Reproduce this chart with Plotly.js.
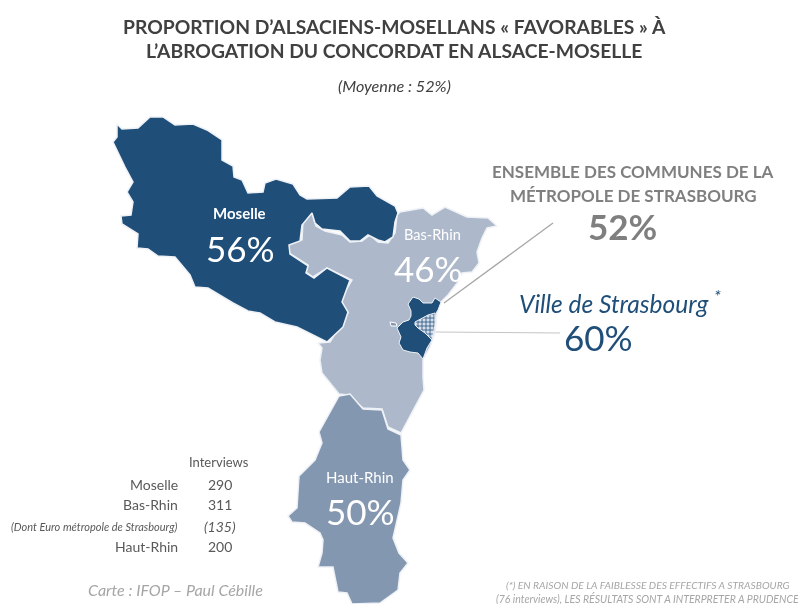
<!DOCTYPE html>
<html><head><meta charset="utf-8">
<script src="https://cdn.plot.ly/plotly-3.0.1.min.js"></script>
<style>html,body{margin:0;padding:0;background:#fff}#chart{width:798px;height:604px;filter:blur(0.35px)}</style>
</head><body><div id="chart"></div>
<script>
const FONT = 'Lato, "Open Sans", sans-serif';
const NAVY = '#1f4e79', LIGHT = '#adb9ca', MID = '#8497b0', GREY = '#7f7f7f', DARK = '#404040';

// Outlines, in picture units
const moselleX = [117,122,138,150,163,175,193,207,222,222,233,234,242,248,263,265,276,293,300,307,337,350,369,377,395,398,395,393,385,378,368,360,350,340,322,315,312,302,300,289,290,308,306,314,327,350,342,348,343,327,313,297,275,260,248,233,208,195,190,175,158,148,137,138,122,121,131,133,127,133,125,113,117];
const moselleY = [124,129,128,117,117,125,124,130,140,160,166,177,180,193,192,183,179,184,195,199,198,187,186,196,206,213,222,237,242,240,235,241,241,231,229,223,213,225,241,245,254,266,273,278,268,280,302,312,327,342,335,327,322,313,311,303,288,287,275,257,256,249,248,234,224,216,215,202,192,182,167,142,137];
const basRhinX = [312,316,325,342,350,362,370,378,388,395,397,400,423,432,445,467,488,497,487,482,477,479,472,462,458,448,440,437,435,430,423,423,424,412,401,388,382,363,348,339,322,320,322,318,330,348,340,352,327,313,306,308,289,289,302,303];
const basRhinY = [213,226,231,235,242,241,235,242,243,233,215,212,208,215,207,217,218,226,228,238,252,263,272,273,282,295,303,313,333,347,360,377,390,413,433,427,409,408,395,394,373,360,348,343,342,313,300,280,268,277,272,265,253,243,240,220];
const hautRhinX = [339,350,363,382,388,401,403,410,403,401,393,399,408,400,398,380,352,347,338,333,318,322,323,320,305,292,288,297,299,315,322,319];
const hautRhinY = [396,394,409,410,429,435,460,470,480,503,538,553,563,573,590,603,604,593,592,567,567,553,540,533,523,522,516,508,476,460,443,432];
const metroX = [413,419,423,432,435,441,438,436,435,432,427,423,418,410,403,399,401,397,403,409,411,411,408];
const metroY = [297,299,303,303,298,302,310,313,325,340,348,359,353,352,350,343,337,328,322,320,316,311,304];
const villeX = [415,422,428,435,435,432,425,418,415];
const villeY = [322,318,315,313,325,340,333,328,325];
const isletX = [390,396,397,391];
const isletY = [322,323,326,326];
const leader1X = [553,444], leader1Y = [223,303];
const leader2X = [436,560], leader2Y = [332,333];

// Texts
const titleLines = ["PROPORTION D’ALSACIENS-MOSELLANS « FAVORABLES » À", "L’ABROGATION DU CONCORDAT EN ALSACE-MOSELLE"];
const subtitle = "(Moyenne : 52%)";
const regions = ["Moselle", "Bas-Rhin", "Haut-Rhin"];
const regionPct = ["56%", "46%", "50%"];
const metroLines = ["ENSEMBLE DES COMMUNES DE LA", "MÉTROPOLE DE STRASBOURG"];
const metroPct = "52%";
const villeLabel = "Ville de Strasbourg <sup>*</sup>";
const villePct = "60%";
const tableHead = "Interviews";
const tableRows = ["Moselle", "Bas-Rhin", "(Dont Euro métropole de Strasbourg)", "Haut-Rhin"];
const tableVals = ["290", "311", "(135)", "200"];
const credit = "Carte : IFOP – Paul Cébille";
const footnote = ["(*) EN RAISON DE LA FAIBLESSE DES EFFECTIFS A STRASBOURG", "(76 interviews), LES RÉSULTATS SONT A INTERPRETER A PRUDENCE"];

function area(x, y, fill, extra) {
  return Object.assign({type:'scatter', mode:'lines', x, y, fill:'toself', fillcolor:fill,
    line:{color:'#eef1f6', width:1.5}, hoverinfo:'skip', showlegend:false}, extra || {});
}
const closed = a => a.concat(a[0]);
const traces = [
  area(closed(basRhinX), closed(basRhinY), LIGHT),
  area(closed(hautRhinX), closed(hautRhinY), MID),
  area(closed(moselleX), closed(moselleY), NAVY),
  area(closed(metroX), closed(metroY), NAVY, {line:{color:'#eef1f6', width:1}}),
  area(closed(villeX), closed(villeY), '#c9d5e5', {line:{color:'#eef1f6', width:1}, fillpattern:{shape:'+', fgcolor:NAVY, bgcolor:'#d5deea', size:4, solidity:0.35}}),
  area(closed(isletX), closed(isletY), MID, {line:{color:'#ffffff', width:1}}),
  {type:'scatter', mode:'lines', x:leader1X, y:leader1Y, line:{color:'#a6a6a6', width:1.3}, hoverinfo:'skip', showlegend:false},
  {type:'scatter', mode:'lines', x:leader2X, y:leader2Y, line:{color:'#c4c4c4', width:1}, hoverinfo:'skip', showlegend:false}
];

function t(text, x, y, size, color, o) {
  return Object.assign({text, x, y, xref:'x', yref:'y', showarrow:false, xanchor:'center', yanchor:'middle',
    font:{family:FONT, size, color}}, o || {});
}
const it = (text, x, y, size, color, o) => t('<i>'+text+'</i>', x, y, size, color, o);
const b = s => '<b>'+s+'</b>';
const regionPos = [[239,213,240,248],[432,234,428,268],[360,477,360,511]];
const annotations = [
  t(b(titleLines[0]),394,26,19.3,DARK),
  t(b(titleLines[1]),394,50,19.3,DARK),
  it(subtitle,394,85,16.2,DARK),
  t(b(regions[0]),regionPos[0][0],regionPos[0][1],15,'#ffffff'),
  t(regions[1],regionPos[1][0],regionPos[1][1],14.5,'#ffffff'),
  t(regions[2],regionPos[2][0],regionPos[2][1],15,'#ffffff'),
  t(regionPct[0],regionPos[0][2],regionPos[0][3],35,'#ffffff'),
  t(regionPct[1],regionPos[1][2],regionPos[1][3],35,'#ffffff'),
  t(regionPct[2],regionPos[2][2],regionPos[2][3],35,'#ffffff'),
  t(b(metroLines[0]),633,171,17,GREY),
  t(b(metroLines[1]),633,195,17,GREY),
  t(b(metroPct),622,226,35,GREY),
  it(villeLabel,620,302,24.5,NAVY),
  t(villePct,598,337,35,NAVY),
  t(tableHead,219,462,13,'#595959'),
  t(tableRows[0],180,484,14,'#595959',{xanchor:'right'}),
  t(tableRows[1],180,504,14,'#595959',{xanchor:'right'}),
  it(tableRows[2],180,526,11,'#595959',{xanchor:'right'}),
  t(tableRows[3],180,546,14,'#595959',{xanchor:'right'}),
  t(tableVals[0],220,484,14,'#595959'),
  t(tableVals[1],220,504,14,'#595959'),
  it(tableVals[2],220,526,14,'#595959'),
  t(tableVals[3],220,546,14,'#595959'),
  it(credit,175,589,16,'#a6a6a6'),
  it(footnote[0],648,585,10.3,'#a6a6a6'),
  it(footnote[1],647,598,10.5,'#a6a6a6')
];

Plotly.newPlot('chart', traces, {
  width:798, height:604, margin:{l:0,r:0,t:0,b:0}, paper_bgcolor:'#fff', plot_bgcolor:'#fff', showlegend:false,
  xaxis:{range:[0,798], visible:false, fixedrange:true},
  yaxis:{range:[604,0], visible:false, fixedrange:true},
  annotations
}, {displayModeBar:false, staticPlot:true}).then(() => {
  document.querySelectorAll('#chart text').forEach(n => { if (!n.textContent.trim()) n.remove(); });
});
</script></body></html>
